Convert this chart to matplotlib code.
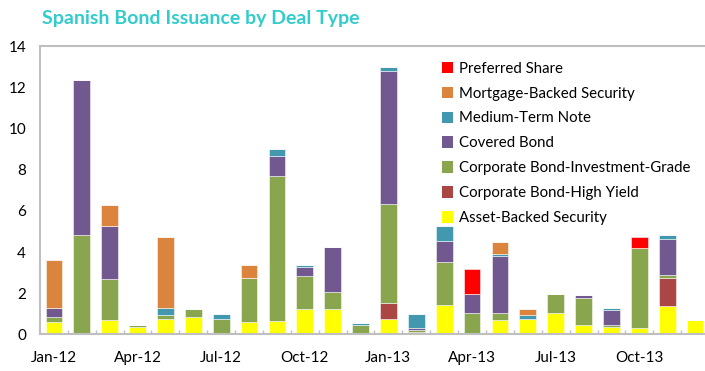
import numpy as np
import matplotlib.pyplot as plt
from matplotlib.patches import Patch

plt.rcParams['font.family'] = ['Lato', 'DejaVu Sans']

months = ['Jan-12', 'Feb-12', 'Mar-12', 'Apr-12', 'May-12', 'Jun-12',
          'Jul-12', 'Aug-12', 'Sep-12', 'Oct-12', 'Nov-12', 'Dec-12',
          'Jan-13', 'Feb-13', 'Mar-13', 'Apr-13', 'May-13', 'Jun-13',
          'Jul-13', 'Aug-13', 'Sep-13', 'Oct-13', 'Nov-13', 'Dec-13']

# issuance per deal type, bottom of the stack first
asset_backed = [0.61, 0.0, 0.69, 0.38, 0.75, 0.83, 0.0, 0.61, 0.67, 1.22, 1.22, 0.0,
                0.75, 0.0, 1.45, 0.0, 0.69, 0.75, 1.06, 0.46, 0.38, 0.30, 1.37, 0.69]
high_yield = [0, 0, 0, 0, 0, 0, 0, 0, 0, 0, 0, 0,
              0.76, 0.10, 0, 0.07, 0, 0, 0, 0, 0, 0, 1.37, 0]
invest_grade = [0.24, 4.82, 2.0, 0.08, 0.18, 0.39, 0.75, 2.15, 7.04, 1.61, 0.84, 0.46,
                4.82, 0.12, 2.05, 0.99, 0.37, 0.0, 0.92, 1.30, 0.08, 3.90, 0.15, 0]
covered = [0.45, 7.55, 2.58, 0, 0, 0, 0, 0, 0.97, 0.46, 2.20, 0,
           6.47, 0.08, 1.05, 0.92, 2.77, 0, 0, 0.14, 0.74, 0, 1.76, 0]
medium_term = [0, 0, 0, 0, 0.37, 0, 0.24, 0, 0.32, 0.07, 0, 0.08,
               0.18, 0.69, 0.72, 0, 0.08, 0.21, 0, 0, 0.09, 0, 0.17, 0]
mortgage_backed = [2.30, 0, 1.0, 0, 3.43, 0, 0, 0.60, 0, 0, 0, 0,
                   0, 0, 0, 0, 0.58, 0.26, 0, 0, 0, 0, 0, 0]
preferred = [0, 0, 0, 0, 0, 0, 0, 0, 0, 0, 0, 0,
             0, 0, 0, 1.21, 0, 0, 0, 0, 0, 0.53, 0, 0]

series = [
    ('Asset-Backed Security', asset_backed, '#FFFF00'),
    ('Corporate Bond-High Yield', high_yield, '#AA4643'),
    ('Corporate Bond-Investment-Grade', invest_grade, '#89A54E'),
    ('Covered Bond', covered, '#71588F'),
    ('Medium-Term Note', medium_term, '#4198AF'),
    ('Mortgage-Backed Security', mortgage_backed, '#DB843D'),
    ('Preferred Share', preferred, '#FF0000'),
]

fig = plt.figure(figsize=(7.05, 3.71), dpi=100)
ax = fig.add_axes([0.0567, 0.0984, 0.949, 0.7776])

x = np.arange(len(months))
bottom = np.zeros(len(months))
handles = []
for name, vals, col in series:
    vals = np.array(vals, dtype=float)
    ax.bar(x, vals, width=0.6, bottom=bottom, color=col,
           edgecolor=(1, 1, 1, 0.6), linewidth=0.6, zorder=2)
    bottom += vals
    handles.append(Patch(facecolor=col, edgecolor='none', label=name))

ax.set_xlim(-0.5, len(months) - 0.5)
ax.set_ylim(0, 14)
ax.set_yticks(range(0, 15, 2))
ax.set_xticks(x[::3])
ax.set_xticklabels(months[::3])
ax.set_xticks(np.arange(0.5, len(months) - 0.5, 1), minor=True)
ax.tick_params(axis='x', which='major', length=0, pad=12, labelsize=11)
ax.tick_params(axis='x', which='minor', direction='in', length=3,
               color='#BFBFBF', width=1)
ax.tick_params(axis='y', length=0, pad=10, labelsize=11)
for side in ['left', 'bottom', 'top', 'right']:
    ax.spines[side].set_color('#BFBFBF')
    ax.spines[side].set_linewidth(1.5)

leg = ax.legend(handles=handles[::-1], loc='upper left',
                bbox_to_anchor=(0.627, 0.834), bbox_transform=fig.transFigure,
                frameon=False, fontsize=10.8, handlelength=0.75,
                handleheight=0.8, handletextpad=0.35, labelspacing=0.73,
                borderaxespad=0, borderpad=0)

fig.text(0.06, 0.95, 'Spanish Bond Issuance by Deal Type', color='#33CCCC',
         fontsize=14, fontweight='bold', va='center', ha='left')

fig.savefig('out.png', dpi=100)
